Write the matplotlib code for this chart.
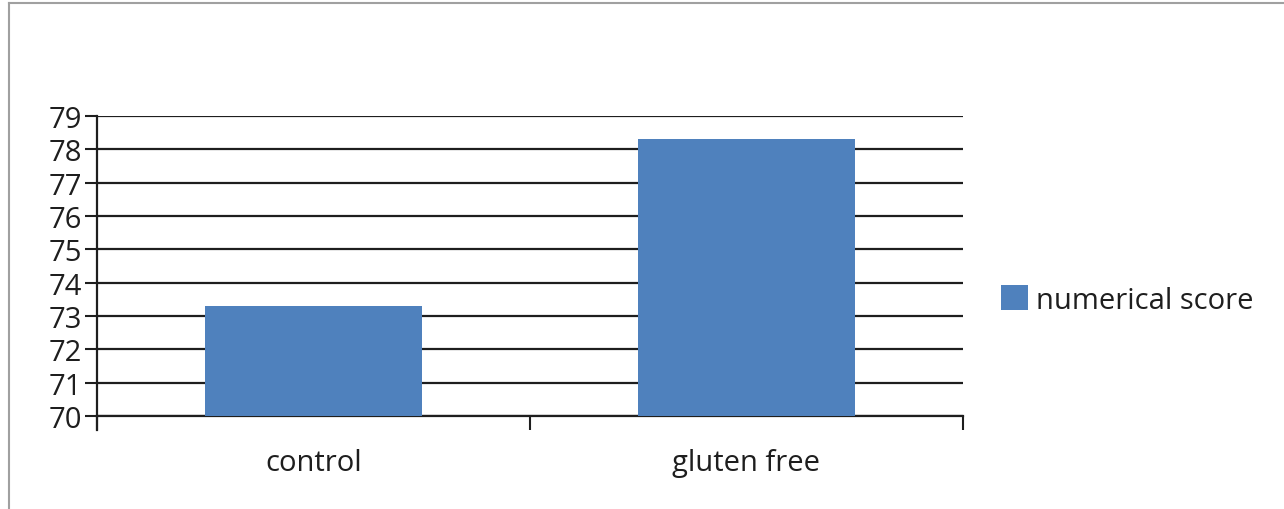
import matplotlib
matplotlib.use("Agg")
import matplotlib.pyplot as plt
from matplotlib.lines import Line2D
from matplotlib.patches import Patch

categories = ["control", "gluten free"]
scores = [73.3, 78.3]
series_name = "numerical score"
y_ticks = [70, 71, 72, 73, 74, 75, 76, 77, 78, 79]

plt.rcParams['font.family'] = ['Open Sans', 'DejaVu Sans']

fig = plt.figure(figsize=(12.84, 5.10), dpi=100)
ax = fig.add_axes([97 / 1284, 1 - 417 / 510, 866 / 1284, 300 / 510])

bar_color = '#4f81bd'
ink = '#1e1e1e'
x = range(len(categories))
# bars start at the axis floor of 70
ax.bar(x, [s - 70 for s in scores], bottom=70, width=0.5, color=bar_color, zorder=3)

ax.set_xlim(-0.5, 1.5)
ax.set_ylim(70, 79)
ax.set_yticks(y_ticks)
ax.set_yticklabels([str(t) for t in y_ticks])
ax.set_xticks(list(x))
ax.set_xticklabels(categories)
ax.set_xticks([-0.5, 0.5, 1.5], minor=True)

ax.tick_params(axis='x', which='major', length=0, pad=23, labelsize=21, colors=ink)
ax.tick_params(axis='x', which='minor', length=10, width=1.5, direction='out', color=ink)
ax.tick_params(axis='y', length=9, width=1.5, pad=2, labelsize=21, colors=ink)

ax.yaxis.grid(True, color=ink, linewidth=1.6, zorder=1)
ax.set_axisbelow(True)
for side in ['top', 'right']:
    ax.spines[side].set_visible(False)
for side in ['left', 'bottom']:
    ax.spines[side].set_color(ink)
    ax.spines[side].set_linewidth(1.6)
ax.spines['left'].set_bounds(70, 79)

# left y axis line runs down past the floor to the tick length
ax.plot([-0.5, -0.5], [70, 70 - 14 / 33.3], color=ink, lw=1.6, clip_on=False)

handle = Patch(facecolor=bar_color, edgecolor='none')
fig.legend([handle], [series_name], loc='center left', bbox_to_anchor=(975 / 1284, 1 - 301 / 510),
           frameon=False, fontsize=21, handlelength=0.9, handleheight=0.9, handletextpad=0.28,
           labelcolor=ink)

# outer chart frame (top and left edges)
fig.add_artist(Line2D([9 / 1284, 9 / 1284], [0, 1 - 4 / 510], color='#a0a0a0', lw=1.5))
fig.add_artist(Line2D([9 / 1284, 1], [1 - 4 / 510, 1 - 4 / 510], color='#a0a0a0', lw=1.5))

fig.savefig("out.png", dpi=100)
